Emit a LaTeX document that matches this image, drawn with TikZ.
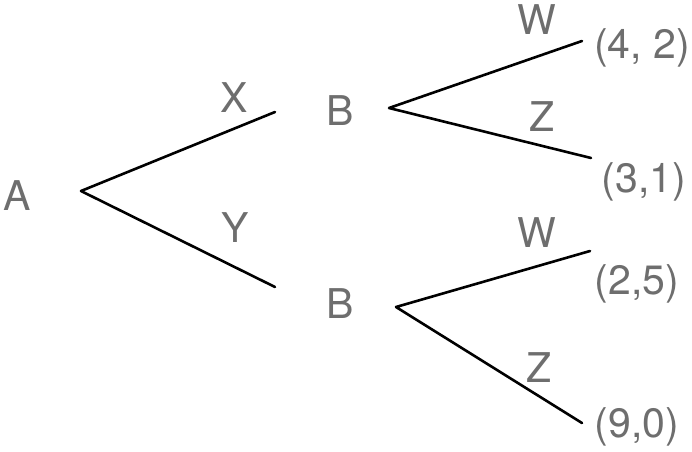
\documentclass[tikz,border=0pt]{standalone}
\usepackage{fontspec}
\setmainfont{TeX Gyre Heros}
\definecolor{labelgray}{RGB}{110,110,110}
\begin{document}
\begin{tikzpicture}[x=1pt,y=1pt,
  lbl/.style={text=labelgray,inner sep=0pt,anchor=base,font=\fontsize{41}{41}\selectfont},
  branch/.style={draw=black,line width=2.6pt,line cap=round,line join=round}]
\useasboundingbox (0,0) rectangle (692,451);
% decision nodes and labels
\node[lbl] (A)  at (17.5,241) {A};
\node[lbl] (B1) at (340.5,326) {B};
\node[lbl] (B2) at (340.5,133) {B};
\node[lbl] (X)  at (234.5,339) {X};
\node[lbl] (Y)  at (235,209) {Y};
\node[lbl] (W1) at (537,416) {W};
\node[lbl] (Z1) at (542.5,320) {Z};
\node[lbl] (W2) at (537,204) {W};
\node[lbl] (Z2) at (539.5,69) {Z};
% payoffs
\node[lbl] (P1) at (642,392) {(4, 2)};
\node[lbl] (P2) at (644,259) {(3,1)};
\node[lbl] (P3) at (637,157) {(2,5)};
\node[lbl] (P4) at (637,14) {(9,0)};
% branch end points
\coordinate (a0) at (81,260);
\coordinate (x1) at (275,339);
\coordinate (y1) at (275,164);
\coordinate (b1) at (389,343);
\coordinate (w1) at (582,410);
\coordinate (z1) at (591,293);
\coordinate (b2) at (396,144);
\coordinate (w2) at (590,200);
\coordinate (z2) at (582,28);
% branches
\draw[branch] (x1) -- (a0) -- (y1);
\draw[branch] (w1) -- (b1) -- (z1);
\draw[branch] (w2) -- (b2) -- (z2);
\end{tikzpicture}
\end{document}
